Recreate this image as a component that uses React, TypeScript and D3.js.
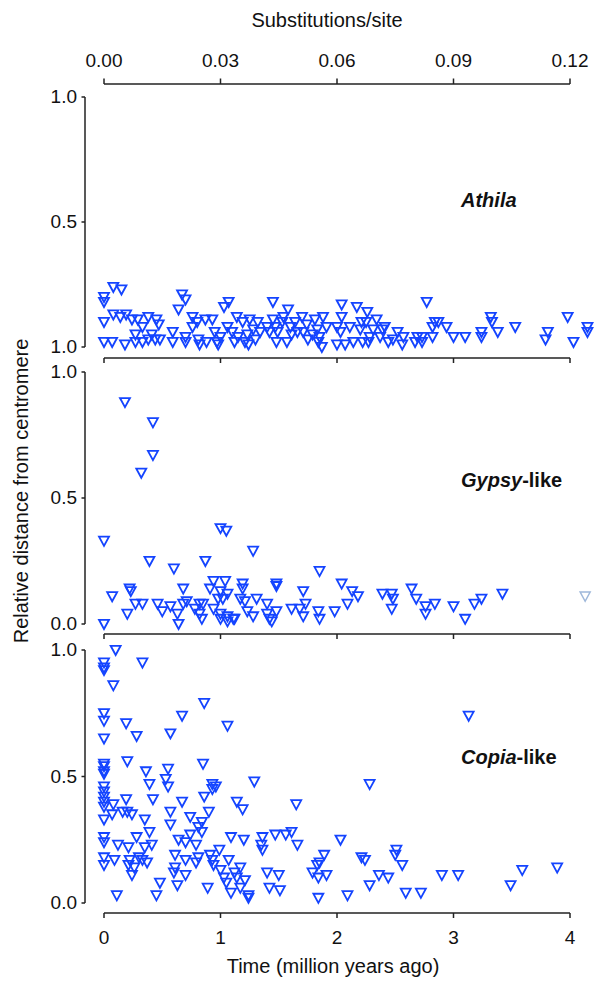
import React from "react";
import * as d3 from "d3";

// ---------- data ----------
const subsTicks = [0, 0.03, 0.06, 0.09, 0.12];
const subsTickLabels = ["0.00", "0.03", "0.06", "0.09", "0.12"];
const timeTicks = [0, 1, 2, 3, 4];
const timeTickLabels = ["0", "1", "2", "3", "4"];
const yTicks = [0, 0.5, 1];
const panelNames = ["Athila", "Gypsy", "Copia"];
const panelSuffix = ["", "-like", "-like"];
const athilaYTickLabels = ["1.0", "0.5", "1.0"]; // as printed in the original (bottom, middle, top)
const stdYTickLabels = ["0.0", "0.5", "1.0"];

// [time (Mya), relative distance from centromere]
const athila: [number, number][] = [
  [0, 0.2], [0, 0.18], [0.08, 0.24], [0.15, 0.23], [0, 0.1], [0, 0.02], [0.07, 0.02], [0.08, 0.13],
  [0.14, 0.12], [0.19, 0.13], [0.18, 0.01], [0.24, 0.11], [0.27, 0.02], [0.27, 0.05], [0.29, 0.11],
  [0.33, 0.02], [0.33, 0.08], [0.38, 0.12], [0.38, 0.03], [0.41, 0.05], [0.44, 0.03], [0.45, 0.11],
  [0.47, 0.09], [0.48, 0.03], [0.59, 0.06], [0.59, 0.02], [0.64, 0.15], [0.67, 0.21], [0.7, 0.19],
  [0.7, 0.04], [0.7, 0.02], [0.76, 0.12], [0.76, 0.08], [0.8, 0.1], [0.81, 0.03], [0.82, 0.01],
  [0.87, 0.11], [0.88, 0.02], [0.93, 0.11], [0.95, 0.06], [0.97, 0.02], [0.98, 0.01], [1.0, 0.04],
  [1.03, 0.16], [1.07, 0.18], [1.06, 0.08], [1.1, 0.06], [1.12, 0.02], [1.14, 0.12], [1.15, 0.04],
  [1.19, 0.1], [1.21, 0.02], [1.23, 0.05], [1.24, 0.01], [1.25, 0.11], [1.28, 0.07], [1.3, 0.03],
  [1.32, 0.1], [1.34, 0.06], [1.4, 0.08], [1.42, 0.06], [1.45, 0.18], [1.45, 0.11], [1.47, 0.08],
  [1.48, 0.02], [1.49, 0.06], [1.53, 0.1], [1.54, 0.12], [1.57, 0.02], [1.58, 0.15], [1.6, 0.08],
  [1.61, 0.05], [1.64, 0.1], [1.66, 0.06], [1.7, 0.12], [1.71, 0.06], [1.74, 0.09], [1.75, 0.03],
  [1.79, 0.05], [1.81, 0.11], [1.83, 0.07], [1.84, 0.02], [1.85, 0.04], [1.87, 0.0], [1.88, 0.12],
  [1.91, 0.08], [2.0, 0.08], [2.0, 0.01], [2.03, 0.06], [2.04, 0.17], [2.04, 0.12], [2.07, 0.01],
  [2.11, 0.08], [2.14, 0.02], [2.17, 0.16], [2.2, 0.07], [2.21, 0.1], [2.22, 0.02], [2.25, 0.1],
  [2.26, 0.14], [2.27, 0.02], [2.28, 0.04], [2.31, 0.07], [2.34, 0.11], [2.37, 0.04], [2.39, 0.07],
  [2.41, 0.08], [2.44, 0.02], [2.48, 0.03], [2.52, 0.06], [2.56, 0.01], [2.57, 0.04], [2.67, 0.02],
  [2.69, 0.04], [2.73, 0.02], [2.73, 0.04], [2.77, 0.18], [2.82, 0.08], [2.82, 0.04], [2.84, 0.1],
  [2.87, 0.1], [2.94, 0.08], [3.0, 0.04], [3.1, 0.04], [3.24, 0.04], [3.24, 0.06], [3.32, 0.12],
  [3.33, 0.1], [3.38, 0.06], [3.53, 0.08], [3.79, 0.03], [3.81, 0.06], [3.98, 0.12], [4.03, 0.02],
  [4.15, 0.08], [4.15, 0.06],
];

const gypsy: [number, number][] = [
  [0.18, 0.88], [0.42, 0.8], [0.42, 0.67], [0.32, 0.6], [0, 0.33], [1.0, 0.38], [1.05, 0.37],
  [1.28, 0.29], [0.39, 0.25], [0.6, 0.22], [0.87, 0.25], [1.85, 0.21],
  [0.07, 0.11], [0.22, 0.14], [0.23, 0.13], [0.68, 0.14], [0.94, 0.17], [1.04, 0.17], [0.91, 0.14],
  [1.0, 0.13], [1.06, 0.12], [1.19, 0.16], [1.19, 0.14], [1.48, 0.16], [1.48, 0.15],
  [0.27, 0.08], [0.33, 0.08], [0.46, 0.08], [0.57, 0.07], [0.68, 0.08], [0.71, 0.09], [0.82, 0.08],
  [0.85, 0.08], [0.98, 0.1], [1.02, 0.1], [1.17, 0.1], [1.21, 0.09], [1.31, 0.1], [1.4, 0.08],
  [0, 0.0], [0.2, 0.04], [0.5, 0.05], [0.63, 0.04], [0.64, 0.0], [0.78, 0.06], [0.82, 0.04],
  [0.84, 0.02], [0.94, 0.06], [1.0, 0.04], [1.0, 0.02], [1.06, 0.03], [1.06, 0.01], [1.11, 0.02],
  [1.12, 0.02], [1.23, 0.05], [1.28, 0.03], [1.4, 0.04], [1.42, 0.02], [1.44, 0.01], [1.48, 0.05],
  [1.61, 0.06], [1.68, 0.06], [1.71, 0.13], [1.73, 0.08], [1.71, 0.03], [1.84, 0.05], [1.85, 0.02],
  [1.98, 0.05], [2.04, 0.16], [2.13, 0.13], [2.09, 0.08], [2.18, 0.11], [2.39, 0.12], [2.47, 0.12],
  [2.48, 0.1], [2.47, 0.06], [2.64, 0.14], [2.68, 0.1], [2.76, 0.07], [2.76, 0.04], [2.84, 0.08],
  [3.0, 0.07], [3.1, 0.02], [3.18, 0.08], [3.24, 0.1], [3.42, 0.12],
];
const gypsyFaded: [number, number][] = [[4.13, 0.11]];

const copia: [number, number][] = [
  [0.1, 1.0], [0, 0.95], [0, 0.93], [0, 0.92], [0.33, 0.95], [0.08, 0.86], [0.86, 0.79], [0, 0.75],
  [0, 0.72], [0.67, 0.74], [1.06, 0.7], [0.19, 0.71], [0.28, 0.66], [0.57, 0.67], [0, 0.65],
  [0.2, 0.56], [0, 0.55], [0, 0.54], [0, 0.52], [0, 0.51], [0.85, 0.55], [0.36, 0.52], [0.55, 0.53],
  [0.53, 0.49], [0.39, 0.47], [0.55, 0.46], [0.93, 0.47], [0.96, 0.46], [0.93, 0.45], [1.29, 0.48],
  [0, 0.46], [0, 0.44], [0, 0.42], [0, 0.4], [0, 0.38], [0.42, 0.41], [0.19, 0.41], [0.08, 0.39],
  [0.67, 0.4], [0.86, 0.42], [1.14, 0.4], [1.19, 0.37], [1.65, 0.39], [0, 0.33], [0.07, 0.35],
  [0.16, 0.36], [0.24, 0.35], [0.2, 0.36], [0.35, 0.33], [0.57, 0.36], [0.57, 0.31], [0.74, 0.34],
  [0.9, 0.36], [0.84, 0.32], [0.81, 0.3], [0.84, 0.28], [0, 0.26], [3.13, 0.74], [2.28, 0.47],
  [0.74, 0.27],
  [0, 0.24], [0, 0.18], [0, 0.15], [0.09, 0.17], [0.11, 0.03], [0.12, 0.23], [0.21, 0.22],
  [0.21, 0.15], [0.22, 0.17], [0.24, 0.11], [0.26, 0.14], [0.28, 0.26], [0.3, 0.18], [0.33, 0.17],
  [0.37, 0.16], [0.35, 0.22], [0.39, 0.28], [0.41, 0.23], [0.45, 0.03], [0.48, 0.08], [0.6, 0.12],
  [0.61, 0.19], [0.63, 0.07], [0.61, 0.14], [0.64, 0.25], [0.7, 0.24], [0.7, 0.17], [0.7, 0.11],
  [0.79, 0.23], [0.79, 0.16], [0.81, 0.18], [0.89, 0.06], [0.91, 0.19], [0.93, 0.17], [0.94, 0.15],
  [0.99, 0.21], [1.0, 0.13], [1.03, 0.1], [1.05, 0.08], [1.09, 0.04], [1.07, 0.17], [1.09, 0.26],
  [1.12, 0.12], [1.14, 0.1], [1.17, 0.14], [1.17, 0.06], [1.2, 0.25], [1.21, 0.09], [1.24, 0.02],
  [1.24, 0.03], [1.35, 0.23], [1.36, 0.21], [1.36, 0.26], [1.4, 0.12], [1.42, 0.06], [1.47, 0.27],
  [1.5, 0.11], [1.51, 0.05], [1.56, 0.27], [1.61, 0.28], [1.66, 0.23], [1.79, 0.12], [1.83, 0.15],
  [1.84, 0.1], [1.85, 0.16], [1.89, 0.19], [1.91, 0.11], [1.84, 0.02], [2.03, 0.25], [2.09, 0.03],
  [2.21, 0.18], [2.24, 0.17], [2.28, 0.07], [2.36, 0.11], [2.44, 0.1], [2.51, 0.21], [2.5, 0.19],
  [2.56, 0.15], [2.59, 0.04], [2.72, 0.04], [2.9, 0.11], [3.04, 0.11], [3.49, 0.07], [3.59, 0.13],
  [3.89, 0.14],
];

const seriesList = [athila, gypsy, copia];

// ---------- layout ----------
const W = 600;
const H = 989;
const X0 = 104;
const X1 = 570;
const AXIS_X = 85;
const panels = [
  { top: 97, bottom: 347, axisY: 358 },
  { top: 372, bottom: 624, axisY: 634 },
  { top: 650, bottom: 903, axisY: 913 },
];
const BLUE = "#1444ff";
const FONT = "'Liberation Sans', Arial, Helvetica, sans-serif";
const FS = 19;

const tri = "M-5,-4.2L5,-4.2L0,5Z";

export default function App() {
  const x = d3.scaleLinear().domain([0, 4]).range([X0, X1]);
  const xTop = d3.scaleLinear().domain([0, 0.12]).range([X0, X1]);

  return (
    <svg
      width={W}
      height={H}
      viewBox={`0 0 ${W} ${H}`}
      style={{ position: "absolute", left: 0, top: 0, background: "#fff" }}
      fontFamily={FONT}
    >
      <rect x={0} y={0} width={W} height={H} fill="#fff" />
      {/* top axis */}
      <text x={327} y={27} fontSize={FS + 1} textAnchor="middle" fill="#111">
        Substitutions/site
      </text>
      <line x1={X0} x2={X1} y1={84} y2={84} stroke="#222" strokeWidth={1.5} />
      {subsTicks.map((t, i) => (
        <g key={"st" + i}>
          <line x1={xTop(t)} x2={xTop(t)} y1={84} y2={78.5} stroke="#222" strokeWidth={1.5} />
          <text x={xTop(t)} y={67} fontSize={FS} textAnchor="middle" fill="#111">
            {subsTickLabels[i]}
          </text>
        </g>
      ))}

      {panels.map((p, pi) => {
        const y = d3.scaleLinear().domain([0, 1]).range([p.bottom, p.top]);
        const labels = pi === 0 ? athilaYTickLabels : stdYTickLabels;
        const data = seriesList[pi];
        return (
          <g key={"p" + pi}>
            {/* y axis */}
            <line x1={AXIS_X} x2={AXIS_X} y1={y(1)} y2={y(0)} stroke="#222" strokeWidth={1.5} />
            {yTicks.map((v, i) => (
              <g key={"yt" + i}>
                <line x1={AXIS_X - 3.5} x2={AXIS_X} y1={y(v)} y2={y(v)} stroke="#222" strokeWidth={1.5} />
                <text x={77} y={y(v)} dy="0.33em" fontSize={FS} textAnchor="end" fill="#111">
                  {labels[i]}
                </text>
              </g>
            ))}
            {/* x axis */}
            <line x1={X0} x2={X1} y1={p.axisY} y2={p.axisY} stroke="#222" strokeWidth={1.5} />
            {timeTicks.map((t, i) => (
              <line
                key={"xt" + i}
                x1={x(t)}
                x2={x(t)}
                y1={p.axisY}
                y2={p.axisY + 5}
                stroke="#222"
                strokeWidth={1.5}
              />
            ))}
            {/* points */}
            {data.map((d, i) => (
              <path
                key={"pt" + i}
                d={tri}
                transform={`translate(${x(d[0])},${y(d[1])})`}
                fill="none"
                stroke={BLUE}
                strokeWidth={1.8}
              />
            ))}
            {pi === 1 &&
              gypsyFaded.map((d, i) => (
                <path
                  key={"pf" + i}
                  d={tri}
                  transform={`translate(${x(d[0])},${y(d[1])})`}
                  fill="none"
                  stroke="#9fb8da"
                  strokeWidth={1.5}
                />
              ))}
            {/* panel label */}
            <text
              x={461}
              y={[207, 487, 764][pi]}
              fontSize={20}
              fontWeight="bold"
              fill="#111"
            >
              <tspan fontStyle="italic">{panelNames[pi]}</tspan>
              <tspan>{panelSuffix[pi]}</tspan>
            </text>
          </g>
        );
      })}

      {/* bottom tick labels */}
      {timeTicks.map((t, i) => (
        <text key={"bl" + i} x={x(t)} y={944} fontSize={FS} textAnchor="middle" fill="#111">
          {timeTickLabels[i]}
        </text>
      ))}
      <text x={333} y={973} fontSize={FS + 1} textAnchor="middle" fill="#111">
        Time (million years ago)
      </text>

      {/* y title */}
      <text
        transform="translate(28,491) rotate(-90)"
        fontSize={FS + 1}
        textAnchor="middle"
        fill="#111"
      >
        Relative distance from centromere
      </text>
    </svg>
  );
}
